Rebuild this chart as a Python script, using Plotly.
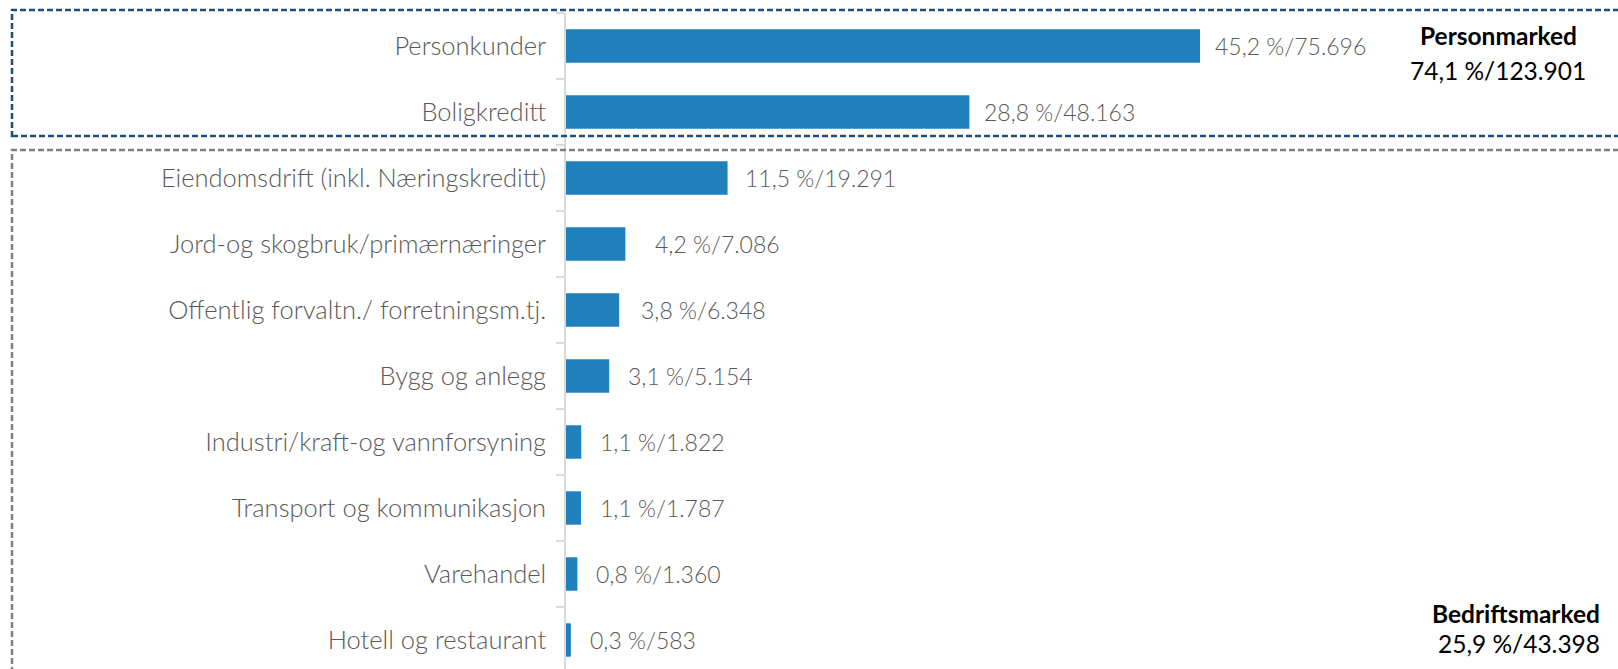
import plotly.graph_objects as go

categories = ["Personkunder", "Boligkreditt", "Eiendomsdrift (inkl. Næringskreditt)",
              "Jord-og skogbruk/primærnæringer", "Offentlig forvaltn./ forretningsm.tj.",
              "Bygg og anlegg", "Industri/kraft-og vannforsyning", "Transport og kommunikasjon",
              "Varehandel", "Hotell og restaurant"]
values = [75696, 48163, 19291, 7086, 6348, 5154, 1822, 1787, 1360, 583]
percents = ["45,2", "28,8", "11,5", "4,2", "3,8", "3,1", "1,1", "1,1", "0,8", "0,3"]
label_shift = [13, 13, 15, 28, 20, 17, 17, 17, 17, 17]

group_names = ["Personmarked", "Bedriftsmarked"]
group_pct = ["74,1", "25,9"]
group_vals = ["123.901", "43.398"]

def fmt(v):
    return f"{v:,}".replace(",", ".")

W, H = 1618, 669
L, T = 566, 13
plot_w = W - L
plot_h = H - T
px_per_unit = (1200 - 566) / 75696
x_max = plot_w / px_per_unit
row = 66.0
y_bottom = -0.5 + plot_h / row

FONT = "Lato"
GRAY = "#595959"

fig = go.Figure(go.Bar(
    y=categories, x=values, orientation="h",
    marker=dict(color="#1F80BC", line=dict(width=0)),
    width=0.506, hoverinfo="skip",
))

for c, v, p, s in zip(categories, values, percents, label_shift):
    fig.add_annotation(x=v, y=c, xref="x", yref="y", text=f"{p} %/{fmt(v)}",
                       showarrow=False, xanchor="left", yanchor="middle", xshift=s,
                       font=dict(family=FONT, size=23, color=GRAY, weight=300))

def px2paper_x(px):
    return (px - L) / plot_w

def px2paper_y(py):
    return (H - py) / plot_h

# group boxes
fig.add_shape(type="rect", xref="paper", yref="paper",
              x0=px2paper_x(12), x1=px2paper_x(1630), y0=px2paper_y(136), y1=px2paper_y(10),
              line=dict(color="#1F4E79", width=2.5, dash="6px,3px"), fillcolor="rgba(0,0,0,0)")
fig.add_shape(type="rect", xref="paper", yref="paper",
              x0=px2paper_x(12), x1=px2paper_x(1630), y0=px2paper_y(690), y1=px2paper_y(150),
              line=dict(color="#808080", width=2.5, dash="6px,3px"), fillcolor="rgba(0,0,0,0)")

group_pos = [(1498, 35, 70, "center"), (1602, 613, 643, "right")]
for name, pct, val, (gx, gy1, gy2, anc) in zip(group_names, group_pct, group_vals, group_pos):
    fig.add_annotation(xref="paper", yref="paper", x=px2paper_x(gx), y=px2paper_y(gy1),
                       text=f"<b>{name}</b>", showarrow=False, xanchor=anc, yanchor="middle",
                       font=dict(family=FONT, size=24.5, color="#000000"))
    fig.add_annotation(xref="paper", yref="paper", x=px2paper_x(gx), y=px2paper_y(gy2),
                       text=f"{pct} %/{val}", showarrow=False, xanchor=anc, yanchor="middle",
                       font=dict(family=FONT, size=24.5, color="#000000"))

fig.update_layout(
    width=W, height=H,
    margin=dict(l=L, r=0, t=T, b=0, autoexpand=False),
    paper_bgcolor="white", plot_bgcolor="white",
    showlegend=False,
    xaxis=dict(visible=False, range=[0, x_max], fixedrange=True),
    yaxis=dict(range=[y_bottom, -0.5], type="category", tickson="boundaries",
               ticks="outside", ticklen=8, tickcolor="#D9D9D9", tickwidth=1.5,
               showline=True, linecolor="#D9D9D9", linewidth=1.5, showgrid=False,
               zeroline=False, automargin=False, ticklabelstandoff=13, fixedrange=True,
               tickfont=dict(family=FONT, size=25.5, color=GRAY, weight=300)),
    font=dict(family=FONT),
)

fig.write_html("out.html", config={"displayModeBar": False},
               post_script="document.body.style.margin='0';document.body.style.overflow='hidden';")
